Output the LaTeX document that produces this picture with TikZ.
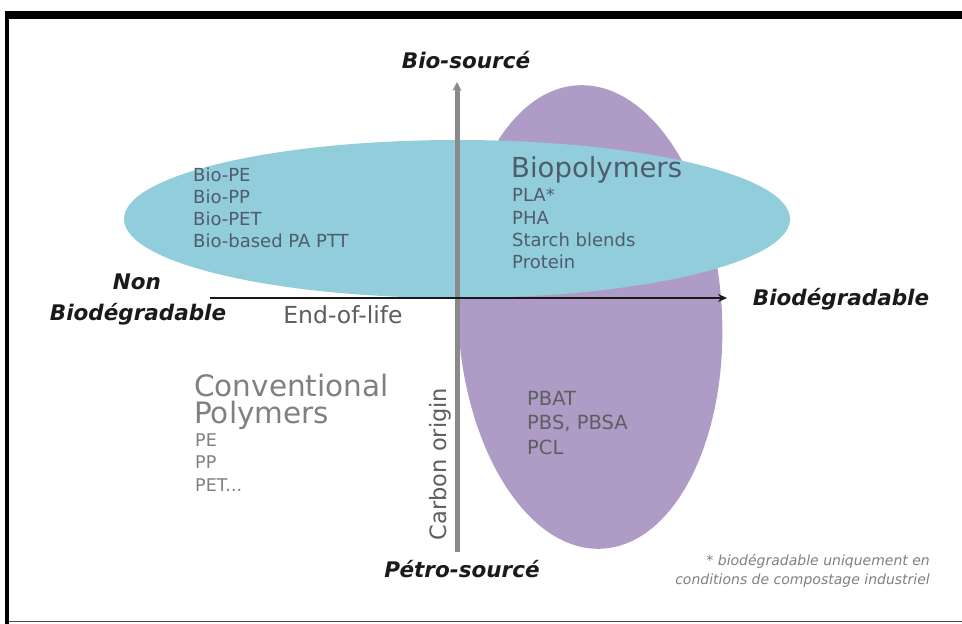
\documentclass[tikz,border=0pt]{standalone}
\usepackage{fontspec}
\setmainfont{DejaVu Sans}
\usetikzlibrary{arrows.meta}
\definecolor{bluefill}{HTML}{92CDDC}
\definecolor{purplefill}{HTML}{AE9CC7}
\definecolor{axisgray}{HTML}{8A8A8A}
\definecolor{txtblue}{HTML}{4F5D6B}
\definecolor{txtgray}{HTML}{808080}
\definecolor{txtdark}{HTML}{1A1A1A}
\definecolor{txtmid}{HTML}{5E5E5E}
\tikzset{
  axislabel/.style={font=\fontsize{21.5}{24}\selectfont\bfseries\itshape, text=txtdark, inner sep=0pt},
  listtxt/.style={font=\fontsize{18}{20}\selectfont, text=txtblue, anchor=west, inner sep=0pt},
  bigtxt/.style={font=\fontsize{27.5}{30}\selectfont, text=txtblue, anchor=west, inner sep=0pt},
  convtxt/.style={font=\fontsize{29.5}{32}\selectfont, text=txtgray, anchor=west, inner sep=0pt},
  convlist/.style={font=\fontsize{17.5}{20}\selectfont, text=txtgray, anchor=west, inner sep=0pt},
  purptxt/.style={font=\fontsize{19.5}{22}\selectfont, text=txtmid, anchor=west, inner sep=0pt},
  notetxt/.style={font=\fontsize{14}{16}\selectfont\itshape, text=txtgray, anchor=east, inner sep=0pt},
}
\begin{document}
\begin{tikzpicture}[x=1pt,y=-1pt]
\useasboundingbox (0,0) rectangle (962,624);
\fill[white] (0,0) rectangle (962,624);
% frame
\fill[black] (5,11) rectangle (962,19);
\fill[black] (5,11) rectangle (9,624);
\draw[line width=1.5pt, black!70] (9,621.5) -- (962,621.5);
% ellipses
\fill[purplefill, rotate around={3:(590,317)}] (590,317) ellipse [x radius=132pt, y radius=232pt];
\fill[bluefill] (457,219) ellipse [x radius=333pt, y radius=79pt];
% axes
\coordinate (vbot) at (457,552);
\coordinate (vtop) at (457,82);
\coordinate (hleft) at (210,298);
\coordinate (hright) at (727,298);
\draw[line width=5pt, axisgray, -{Stealth[length=9pt,width=9pt]}] (vbot) -- (vtop);
\draw[line width=2.5pt, black!90, -{Stealth[length=9pt,width=8pt]}] (hleft) -- (hright);
% axis labels
\node[axislabel] (biosrc) at (466,60) {Bio-sourcé};
\node[axislabel] (petro) at (462,569) {Pétro-sourcé};
\node[axislabel] (non) at (137,282) {Non};
\node[axislabel] (nonbio) at (138,314) {Biodégradable};
\node[axislabel] (bio) at (841,299) {Biodégradable};
\node[font=\fontsize{23.5}{26}\selectfont, text=txtmid, inner sep=0pt] (eol) at (343,315) {End-of-life};
\node[font=\fontsize{22.5}{26}\selectfont, text=txtmid, inner sep=0pt, rotate=90] (carbon) at (440,464) {Carbon origin};
% blue ellipse, left
\node[listtxt] (biope) at (193,175) {Bio-PE};
\node[listtxt] (biopp) at (193,197) {Bio-PP};
\node[listtxt] (biopet) at (193,219) {Bio-PET};
\node[listtxt] (biobased) at (193,241) {Bio-based PA PTT};
% blue ellipse, right
\node[bigtxt] (biopoly) at (511,170) {Biopolymers};
\node[listtxt] (pla) at (512,195) {PLA*};
\node[listtxt] (pha) at (512,218) {PHA};
\node[listtxt] (starch) at (512,240) {Starch blends};
\node[listtxt] (protein) at (512,262) {Protein};
% conventional
\node[convtxt] (conv) at (194,385) {Conventional};
\node[convtxt] (polym) at (194,415) {Polymers};
\node[convlist] (pe) at (195,440) {PE};
\node[convlist] (pp) at (195,462) {PP};
\node[convlist] (pet) at (195,485) {PET...};
% purple
\node[purptxt] (pbat) at (527,398) {PBAT};
\node[purptxt] (pbs) at (527,423) {PBS, PBSA};
\node[purptxt] (pcl) at (527,447) {PCL};
% note
\node[notetxt] (note1) at (930,561) {* biodégradable uniquement en};
\node[notetxt] (note2) at (930,581) {conditions de compostage industriel};
\end{tikzpicture}
\end{document}
